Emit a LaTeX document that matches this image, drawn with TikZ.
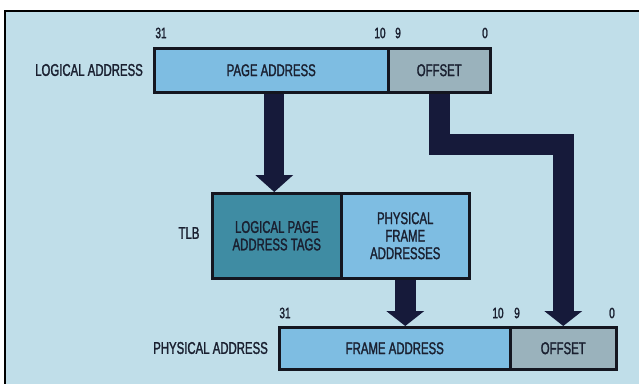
\documentclass[tikz,border=0pt]{standalone}
\usepackage{fontspec}
\setmainfont{Liberation Sans}[FakeStretch=0.67,FakeBold=1.5]
\usetikzlibrary{calc}
\definecolor{bgc}{RGB}{192,222,233}
\definecolor{pagec}{RGB}{126,189,226}
\definecolor{offc}{RGB}{154,178,188}
\definecolor{tagc}{RGB}{63,140,163}
\definecolor{arrowc}{RGB}{22,26,58}
\definecolor{linec}{RGB}{20,22,32}
\definecolor{textc}{RGB}{26,32,48}
\newcommand\lblfont{\fontsize{17}{17.5}\selectfont}
\newcommand\numfont{\fontsize{15}{16}\selectfont}
\begin{document}
\begin{tikzpicture}[x=1pt,y=-1pt,
  cell/.style={draw=linec, line width=2.5pt, inner sep=0pt, anchor=north west,
    font=\lblfont, text=textc, align=center},
  lbl/.style={font=\lblfont, text=textc, inner sep=0pt},
  num/.style={font=\numfont, text=textc, inner sep=0pt},
  shaft/.style={draw=arrowc, line width=20pt},
  head/.style={fill=arrowc}]
\useasboundingbox (0,0) rectangle (639,383);
\clip (0,0) rectangle (639,383);
\fill[white] (0,0) rectangle (639,383);
\filldraw[fill=bgc, draw=black, line width=2.5pt] (5,11) rectangle (680,420);
% boxes
\node[cell, fill=pagec, minimum width=234pt, minimum height=44pt] (page) at (153,47) {PAGE ADDRESS};
\node[cell, fill=offc, minimum width=102pt, minimum height=44pt] (off1) at (387,47) {OFFSET};
\node[cell, fill=tagc, minimum width=129pt, minimum height=85pt] (tags) at (211,192) {LOGICAL PAGE\\ADDRESS TAGS};
\node[cell, fill=pagec, minimum width=128pt, minimum height=85pt] (pfa) at (340,192) {PHYSICAL\\FRAME\\ADDRESSES};
\node[cell, fill=pagec, minimum width=231pt, minimum height=42pt] (fa) at (278,326) {FRAME ADDRESS};
\node[cell, fill=offc, minimum width=106pt, minimum height=42pt] (off2) at (509,326) {OFFSET};
% labels
\node[lbl, anchor=east] (la) at (143,70) {LOGICAL ADDRESS};
\node[lbl, anchor=east] (pa) at (268,348) {PHYSICAL ADDRESS};
\node[lbl] (tlb) at (189,233) {TLB};
\node[num] (n31a) at (161,33) {31};
\node[num] (n10a) at (380,33) {10};
\node[num] (n9a) at (398,33) {9};
\node[num] (n0a) at (485,33) {0};
\node[num] (n31b) at (285,313) {31};
\node[num] (n10b) at (498,313) {10};
\node[num] (n9b) at (517,313) {9};
\node[num] (n0b) at (612,313) {0};
% arrow 1: page address -> TLB
\coordinate (a1) at ($(page.south)+(3,0)$);
\coordinate (t1) at (a1 |- tags.north);
\draw[shaft] (a1) -- ($(t1)+(0,-16)$);
\fill[head] ($(t1)+(-19,-17)$) -- (t1) -- ($(t1)+(19,-17)$) -- cycle;
% arrow 3: TLB -> frame address
\coordinate (a3) at (pfa.south);
\coordinate (t3) at (a3 |- fa.north);
\draw[shaft, line width=21pt] (a3) -- ($(t3)+(0,-14)$);
\fill[head] ($(t3)+(-19,-15)$) -- (t3) -- ($(t3)+(19,-15)$) -- cycle;
% arrow 2: offset -> offset
\coordinate (bend) at (0,144);
\coordinate (t2) at (off2.north);
\draw[shaft, line width=21pt] (off1.south) -- (off1.south |- bend) -| ($(t2)+(0,-14)$);
\fill[head] ($(t2)+(-19,-15)$) -- (t2) -- ($(t2)+(19,-15)$) -- cycle;
\end{tikzpicture}
\end{document}
